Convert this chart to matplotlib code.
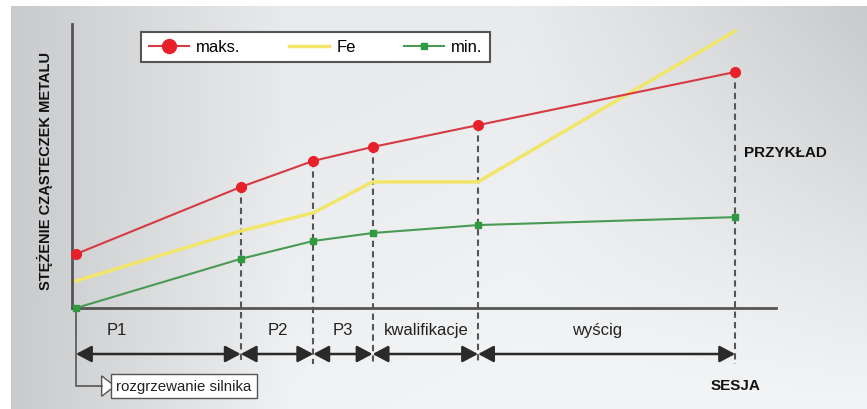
import numpy as np
import matplotlib
matplotlib.use("Agg")
import matplotlib.pyplot as plt
from matplotlib.lines import Line2D
from matplotlib.patches import FancyArrowPatch, Polygon

# pozycje sesji na osi czasu (0 = start rozgrzewania silnika)
sesje = [0, 25, 36, 45, 61, 100]
etykiety_sesji = ["P1", "P2", "P3", "kwalifikacje", "wyścig"]

# stezenie (jednostki umowne)
maks = [19.0, 42.6, 51.8, 56.7, 64.4, 83.1]
fe = [9.5, 27.1, 33.5, 44.4, 44.4, 97.5]
minimum = [0.0, 17.3, 23.6, 26.4, 29.2, 32.0]

# polozenie etykiet sesji pod osia
etykiety_x = [6.2, 30.7, 40.5, 53.1, 79.1]

plt.rcParams["font.family"] = ["Liberation Sans", "DejaVu Sans"]
CIEMNY = "#555555"

fig = plt.figure(figsize=(8.67, 4.10), dpi=100)

# tlo - szczotkowany metal
H, W = 410, 867
yy, xx = np.mgrid[0:H, 0:W]
u = xx / W
w = yy / H
jasnosc = np.clip(u * 3, 0, 1) * np.clip(1 - np.maximum(0, u - 0.6) * (1 - w) * 2.5, 0, 1)
jasnosc = jasnosc * (0.75 + 0.25 * np.clip(u + w - 0.6, 0, 1))
v = 0.79 + 0.17 * jasnosc
img = np.dstack([v - 0.006, v, v + 0.006])
img[:7, :, :] = 1.0
img[:, :11, :] = 1.0
bg = fig.add_axes([0, 0, 1, 1], zorder=-1)
bg.imshow(np.clip(img, 0, 1), aspect="auto", extent=(0, 1, 0, 1))
bg.axis("off")

ax = fig.add_axes([72 / 867, 101 / 410, 704 / 867, 284 / 410])
ax.patch.set_alpha(0)
ax.set_xlim(-0.6, 106.2)
ax.set_ylim(0, 100)
for s in ["top", "right"]:
    ax.spines[s].set_visible(False)
for s in ["left", "bottom"]:
    ax.spines[s].set_color(CIEMNY)
    ax.spines[s].set_linewidth(2)
ax.set_xticks([])
ax.set_yticks([])

# linie przerywane od punktow maks. w dol
for x, y in zip(sesje[1:], maks[1:]):
    ax.plot([x, x], [y, -19.7], ls=(0, (3, 2)), color=CIEMNY, lw=1.5,
            clip_on=False, zorder=1)

ax.plot(sesje, fe, color="#f2e66a", lw=2.5, zorder=2, clip_on=False)
ax.plot(sesje, maks, color="#d63a44", lw=1.5, marker="o", ms=7,
        mfc="#e8202a", mec="#e8202a", zorder=3, clip_on=False)
ax.plot(sesje, minimum, color="#4a9a55", lw=1.5, marker="s", ms=5,
        mfc="#2f9a40", mec="#2f9a40", zorder=3, clip_on=False)

# strzalki sesji
for a, b in zip(sesje[:-1], sesje[1:]):
    strz = FancyArrowPatch((a, -16.2), (b, -16.2),
                           arrowstyle="<|-|>,head_length=9.4,head_width=5",
                           mutation_scale=1, shrinkA=0, shrinkB=0,
                           color="#2a2a2a", lw=1.8, clip_on=False)
    ax.add_patch(strz)

for x, txt in zip(etykiety_x, etykiety_sesji):
    ax.text(x, -7.7, txt, ha="center", va="center", fontsize=12, color="#222222")

# rozgrzewanie silnika
ax.plot([0, 0, 3.9], [0, -27.5, -27.5], color=CIEMNY, lw=1.2, clip_on=False)
ax.add_patch(Polygon([(3.9, -23.9), (5.9, -27.5), (3.9, -31.1)], closed=True,
                     fc="white", ec=CIEMNY, lw=1, clip_on=False))
ax.text(6.1, -27.5, "rozgrzewanie silnika", ha="left", va="center", fontsize=10.8,
        color="#222222",
        bbox=dict(boxstyle="square,pad=0.35", fc="white", ec=CIEMNY, lw=1))

ax.text(100, -27, "SESJA", ha="center", va="center", fontsize=11,
        fontweight="bold", color="#111111")
ax.text(107.7, 54.9, "PRZYKŁAD", ha="center", va="center", fontsize=11,
        fontweight="bold", color="#111111", clip_on=False)
fig.text(45 / 867, 1 - 171 / 410, "STĘŻENIE CZĄSTECZEK METALU", rotation=90,
         ha="center", va="center", fontsize=10.5, fontweight="bold", color="#111111")

uchwyty = [
    Line2D([], [], color="#d63a44", lw=1.5, marker="o", ms=10,
           mfc="#e8202a", mec="#e8202a"),
    Line2D([], [], color="#f2e66a", lw=2.5),
    Line2D([], [], color="#4a9a55", lw=1.5, marker="s", ms=5,
           mfc="#2f9a40", mec="#2f9a40"),
]
leg = fig.legend(uchwyty, ["maks.", "Fe", "min."], loc="upper left",
                 bbox_to_anchor=(141 / 867, 1 - 33 / 410), ncol=3,
                 frameon=True, fancybox=False, edgecolor=CIEMNY,
                 handlelength=2.4, handletextpad=0.45, columnspacing=2.9,
                 borderpad=0.45, borderaxespad=0, fontsize=12, framealpha=1)
leg.get_frame().set_linewidth(1.5)

fig.savefig("out.png", dpi=100)
